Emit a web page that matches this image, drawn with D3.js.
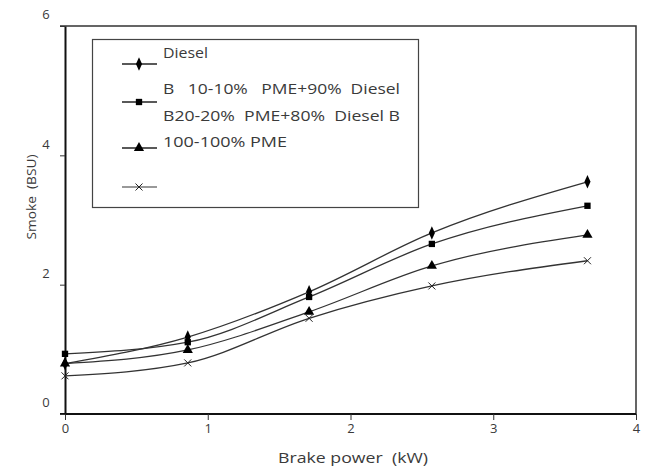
<!DOCTYPE html>
<html>
<head>
<meta charset="utf-8">
<script src="https://cdn.jsdelivr.net/npm/d3@7"></script>
<style>
  body { margin: 0; background: #fff; }
  text { font-family: "Open Sans", sans-serif; fill: #3a3a3a; }
</style>
</head>
<body>
<div id="chart"></div>
<script>
// brake power (kW) at each load step
const power = [0, 0.86, 1.71, 2.57, 3.66];

// smoke (BSU) per fuel
const diesel = [0.78, 1.19, 1.89, 2.80, 3.59];
const b10 = [0.93, 1.11, 1.81, 2.63, 3.22];
const b20 = [0.78, 0.99, 1.58, 2.29, 2.77];
const b100 = [0.59, 0.79, 1.48, 1.98, 2.37];

const legendLabels = [
    "Diesel",
    "B   10-10%   PME+90%  Diesel",
    "B20-20%  PME+80%  Diesel B",
    "100-100% PME",
    ""
];
const xTicks = [0, 1, 2, 3, 4];
const yTicks = [0, 2, 4, 6];

const svgWidth = 645, svgHeight = 466;
const margin = { top: 26, right: 9, bottom: 52, left: 65 };
const width = svgWidth - margin.left - margin.right;
const height = svgHeight - margin.top - margin.bottom;

const svg = d3.select("#chart").append("svg")
    .attr("width", svgWidth)
    .attr("height", svgHeight);

const g = svg.append("g")
    .attr("transform", `translate(${margin.left},${margin.top})`);

const x = d3.scaleLinear().domain([0, 4]).range([0, width]);
const y = d3.scaleLinear().domain([0, 6]).range([height, 0]);

// frame (top + right)
g.append("path")
    .attr("d", `M-5,0H${width}V${height}`)
    .attr("fill", "none")
    .attr("stroke", "#333")
    .attr("stroke-width", 1.5);

// x axis
const xAxis = g.append("g")
    .attr("transform", `translate(0,${height})`)
    .call(d3.axisBottom(x).tickValues(xTicks).tickFormat(d3.format("d")).tickSize(6).tickSizeOuter(0));
xAxis.select(".domain").attr("stroke", "#111").attr("stroke-width", 2)
    .attr("d", `M-5,0H${width}`);
xAxis.selectAll(".tick line").attr("stroke", "#333");
xAxis.selectAll(".tick text").attr("font-size", 13).attr("dy", "0.8em")
    .style("font-family", "Open Sans, sans-serif").attr("fill", "#3a3a3a");

// y axis
const yAxis = g.append("g")
    .call(d3.axisLeft(y).tickValues(yTicks).tickFormat(d3.format("d")).tickSize(5).tickSizeOuter(0));
yAxis.select(".domain").attr("stroke", "#111").attr("stroke-width", 2);
yAxis.selectAll(".tick line").attr("stroke", "#333");
yAxis.selectAll(".tick text").attr("font-size", 13)
    .attr("x", -19).attr("dy", "-0.55em").attr("text-anchor", "middle")
    .style("font-family", "Open Sans, sans-serif").attr("fill", "#3a3a3a");

// axis titles
svg.append("text")
    .attr("x", 353).attr("y", 463)
    .attr("text-anchor", "middle")
    .attr("font-size", 15)
    .attr("textLength", 150)
    .attr("lengthAdjust", "spacingAndGlyphs")
    .style("white-space", "pre")
    .text("Brake power  (kW)");

svg.append("text")
    .attr("transform", "translate(36,197) rotate(-90)")
    .attr("text-anchor", "middle")
    .attr("font-size", 13)
    .attr("textLength", 85)
    .attr("lengthAdjust", "spacingAndGlyphs")
    .style("white-space", "pre")
    .text("Smoke  (BSU)");

// series
const series = [
    { values: diesel, symbol: d3.symbolDiamond, size: 40 },
    { values: b10, symbol: d3.symbolSquare, size: 40 },
    { values: b20, symbol: d3.symbolTriangle, size: 45 },
    { values: b100, symbol: "cross", size: 0 }
];

const line = d3.line()
    .x((d, i) => x(power[i]))
    .y(d => y(d))
    .curve(d3.curveMonotoneX);

function drawSymbol(sel, s) {
    if (s.symbol === "cross") {
        sel.append("path")
            .attr("d", "M-3.5,-3.5L3.5,3.5M-3.5,3.5L3.5,-3.5")
            .attr("stroke", "#222")
            .attr("stroke-width", 1)
            .attr("fill", "none");
    } else {
        sel.append("path")
            .attr("d", d3.symbol().type(s.symbol).size(s.size)())
            .attr("transform", s.symbol === d3.symbolDiamond ? "scale(0.9,1.15)" : null)
            .attr("fill", "#000");
    }
}

series.forEach(s => {
    g.append("path")
        .datum(s.values)
        .attr("d", line)
        .attr("fill", "none")
        .attr("stroke", "#333")
        .attr("stroke-width", 1.3);

    s.values.forEach((v, i) => {
        const m = g.append("g")
            .attr("transform", `translate(${x(power[i])},${y(v)})`);
        drawSymbol(m, s);
    });
});

// legend
const legend = svg.append("g");
legend.append("rect")
    .attr("x", 92.5).attr("y", 39.5)
    .attr("width", 326).attr("height", 168)
    .attr("fill", "#fff")
    .attr("stroke", "#444")
    .attr("stroke-width", 1.2);

const legendSymY = [64, 102, 148, 187];
series.forEach((s, i) => {
    legend.append("line")
        .attr("x1", 122).attr("x2", 157)
        .attr("y1", legendSymY[i]).attr("y2", legendSymY[i])
        .attr("stroke", i === 3 ? "#777" : "#222")
        .attr("stroke-width", 1.3);
    const m = legend.append("g").attr("transform", `translate(139,${legendSymY[i]})`);
    drawSymbol(m, s);
});

const legendTextY = [53, 89, 116, 142, 185];
const legendTextW = [45, 237, 237, 124, 0];
legendLabels.forEach((t, i) => {
    const txt = legend.append("text")
        .attr("x", 163).attr("y", legendTextY[i])
        .attr("dy", "0.35em")
        .attr("font-size", 14.5)
        .style("white-space", "pre")
        .text(t);
    if (legendTextW[i]) txt.attr("textLength", legendTextW[i]).attr("lengthAdjust", "spacingAndGlyphs");
});
</script>
</body>
</html>
